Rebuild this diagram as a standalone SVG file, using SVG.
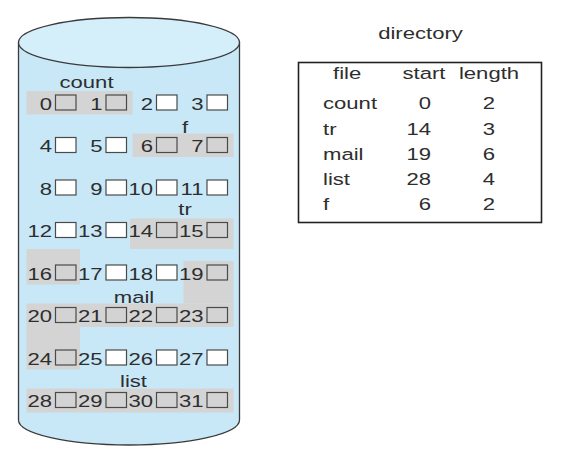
<svg xmlns="http://www.w3.org/2000/svg" width="573" height="457" viewBox="0 0 573 457">
<style>
.t{font-family:"Liberation Sans",Arial,Helvetica,sans-serif;font-size:17px;fill:#2e2e2e}
.e{text-anchor:end}
.m{text-anchor:middle}
.box{stroke:#4a4a4a;stroke-width:1.2}
.free{fill:#ffffff}
.used{fill:#d3d3d3}
.band{fill:#d4d4d4}
.cyl{fill:#c8e8f8;stroke:#3a3a3a;stroke-width:1.3}
.top{fill:#d4eefa;stroke:#3a3a3a;stroke-width:1.3}
</style>
<rect width="573" height="457" fill="#ffffff"/>
<g id="disk">
<path class="cyl" d="M18.5,42.5 L18.5,420 A110.5,25 0 0 0 239.5,420 L239.5,42.5 Z"/>
<ellipse class="top" cx="129" cy="42.5" rx="110.5" ry="25"/>
</g>
<g id="file-count">
<rect class="band" x="26.5" y="91" width="106" height="23.5"/>
<text class="t m" transform="translate(86.5,88) scale(1.3,1)">count</text>
</g>
<g id="file-f">
<rect class="band" x="132.5" y="133.5" width="101" height="23.5"/>
<text class="t m" transform="translate(185,132.5) scale(1.3,1)">f</text>
</g>
<g id="file-tr">
<rect class="band" x="130" y="218.5" width="103.5" height="30.5"/>
<rect class="band" x="26.5" y="249" width="53.5" height="35.5"/>
<text class="t m" transform="translate(185,215) scale(1.3,1)">tr</text>
</g>
<g id="file-mail">
<rect class="band" x="183.5" y="261" width="50" height="42.5"/>
<rect class="band" x="26.5" y="303.5" width="207" height="23.5"/>
<rect class="band" x="26.5" y="327" width="53.5" height="42.5"/>
<text class="t m" transform="translate(134,303) scale(1.3,1)">mail</text>
</g>
<g id="file-list">
<rect class="band" x="26.5" y="388.5" width="207" height="24"/>
<text class="t m" transform="translate(133.5,386.5) scale(1.3,1)">list</text>
</g>
<g id="blocks">
<g id="block-0"><rect class="box used" x="55.5" y="95" width="20.5" height="15"/><text class="t e" transform="translate(52,109.5) scale(1.3,1)">0</text></g>
<g id="block-1"><rect class="box used" x="106" y="95" width="20.5" height="15"/><text class="t e" transform="translate(102.5,109.5) scale(1.3,1)">1</text></g>
<g id="block-2"><rect class="box free" x="156.5" y="95" width="20.5" height="15"/><text class="t e" transform="translate(153,109.5) scale(1.3,1)">2</text></g>
<g id="block-3"><rect class="box free" x="207" y="95" width="20.5" height="15"/><text class="t e" transform="translate(203.5,109.5) scale(1.3,1)">3</text></g>
<g id="block-4"><rect class="box free" x="55.5" y="137.5" width="20.5" height="15"/><text class="t e" transform="translate(52,152) scale(1.3,1)">4</text></g>
<g id="block-5"><rect class="box free" x="106" y="137.5" width="20.5" height="15"/><text class="t e" transform="translate(102.5,152) scale(1.3,1)">5</text></g>
<g id="block-6"><rect class="box used" x="156.5" y="137.5" width="20.5" height="15"/><text class="t e" transform="translate(153,152) scale(1.3,1)">6</text></g>
<g id="block-7"><rect class="box used" x="207" y="137.5" width="20.5" height="15"/><text class="t e" transform="translate(203.5,152) scale(1.3,1)">7</text></g>
<g id="block-8"><rect class="box free" x="55.5" y="180" width="20.5" height="15"/><text class="t e" transform="translate(52,194.5) scale(1.3,1)">8</text></g>
<g id="block-9"><rect class="box free" x="106" y="180" width="20.5" height="15"/><text class="t e" transform="translate(102.5,194.5) scale(1.3,1)">9</text></g>
<g id="block-10"><rect class="box free" x="156.5" y="180" width="20.5" height="15"/><text class="t e" transform="translate(153,194.5) scale(1.3,1)">10</text></g>
<g id="block-11"><rect class="box free" x="207" y="180" width="20.5" height="15"/><text class="t e" transform="translate(203.5,194.5) scale(1.3,1)">11</text></g>
<g id="block-12"><rect class="box free" x="55.5" y="222.5" width="20.5" height="15"/><text class="t e" transform="translate(52,237) scale(1.3,1)">12</text></g>
<g id="block-13"><rect class="box free" x="106" y="222.5" width="20.5" height="15"/><text class="t e" transform="translate(102.5,237) scale(1.3,1)">13</text></g>
<g id="block-14"><rect class="box used" x="156.5" y="222.5" width="20.5" height="15"/><text class="t e" transform="translate(153,237) scale(1.3,1)">14</text></g>
<g id="block-15"><rect class="box used" x="207" y="222.5" width="20.5" height="15"/><text class="t e" transform="translate(203.5,237) scale(1.3,1)">15</text></g>
<g id="block-16"><rect class="box used" x="55.5" y="265" width="20.5" height="15"/><text class="t e" transform="translate(52,279.5) scale(1.3,1)">16</text></g>
<g id="block-17"><rect class="box free" x="106" y="265" width="20.5" height="15"/><text class="t e" transform="translate(102.5,279.5) scale(1.3,1)">17</text></g>
<g id="block-18"><rect class="box free" x="156.5" y="265" width="20.5" height="15"/><text class="t e" transform="translate(153,279.5) scale(1.3,1)">18</text></g>
<g id="block-19"><rect class="box used" x="207" y="265" width="20.5" height="15"/><text class="t e" transform="translate(203.5,279.5) scale(1.3,1)">19</text></g>
<g id="block-20"><rect class="box used" x="55.5" y="307.5" width="20.5" height="15"/><text class="t e" transform="translate(52,322) scale(1.3,1)">20</text></g>
<g id="block-21"><rect class="box used" x="106" y="307.5" width="20.5" height="15"/><text class="t e" transform="translate(102.5,322) scale(1.3,1)">21</text></g>
<g id="block-22"><rect class="box used" x="156.5" y="307.5" width="20.5" height="15"/><text class="t e" transform="translate(153,322) scale(1.3,1)">22</text></g>
<g id="block-23"><rect class="box used" x="207" y="307.5" width="20.5" height="15"/><text class="t e" transform="translate(203.5,322) scale(1.3,1)">23</text></g>
<g id="block-24"><rect class="box used" x="55.5" y="350" width="20.5" height="15"/><text class="t e" transform="translate(52,364.5) scale(1.3,1)">24</text></g>
<g id="block-25"><rect class="box free" x="106" y="350" width="20.5" height="15"/><text class="t e" transform="translate(102.5,364.5) scale(1.3,1)">25</text></g>
<g id="block-26"><rect class="box free" x="156.5" y="350" width="20.5" height="15"/><text class="t e" transform="translate(153,364.5) scale(1.3,1)">26</text></g>
<g id="block-27"><rect class="box free" x="207" y="350" width="20.5" height="15"/><text class="t e" transform="translate(203.5,364.5) scale(1.3,1)">27</text></g>
<g id="block-28"><rect class="box used" x="55.5" y="392.5" width="20.5" height="15"/><text class="t e" transform="translate(52,407) scale(1.3,1)">28</text></g>
<g id="block-29"><rect class="box used" x="106" y="392.5" width="20.5" height="15"/><text class="t e" transform="translate(102.5,407) scale(1.3,1)">29</text></g>
<g id="block-30"><rect class="box used" x="156.5" y="392.5" width="20.5" height="15"/><text class="t e" transform="translate(153,407) scale(1.3,1)">30</text></g>
<g id="block-31"><rect class="box used" x="207" y="392.5" width="20.5" height="15"/><text class="t e" transform="translate(203.5,407) scale(1.3,1)">31</text></g>
</g>
<g id="directory">
<text class="t m" transform="translate(420.5,39) scale(1.3,1)">directory</text>
<rect x="298.5" y="62.5" width="243" height="160" fill="#ffffff" stroke="#222222" stroke-width="1.6"/>
<text class="t" transform="translate(333,78.5) scale(1.3,1)">file</text>
<text class="t m" transform="translate(424,78.5) scale(1.3,1)">start</text>
<text class="t m" transform="translate(489,78.5) scale(1.3,1)">length</text>
<text class="t" transform="translate(323,109.3) scale(1.3,1)">count</text>
<text class="t e" transform="translate(431,109.3) scale(1.3,1)">0</text>
<text class="t m" transform="translate(489,109.3) scale(1.3,1)">2</text>
<text class="t" transform="translate(323,134.5) scale(1.3,1)">tr</text>
<text class="t e" transform="translate(431,134.5) scale(1.3,1)">14</text>
<text class="t m" transform="translate(489,134.5) scale(1.3,1)">3</text>
<text class="t" transform="translate(323,160) scale(1.3,1)">mail</text>
<text class="t e" transform="translate(431,160) scale(1.3,1)">19</text>
<text class="t m" transform="translate(489,160) scale(1.3,1)">6</text>
<text class="t" transform="translate(323,185) scale(1.3,1)">list</text>
<text class="t e" transform="translate(431,185) scale(1.3,1)">28</text>
<text class="t m" transform="translate(489,185) scale(1.3,1)">4</text>
<text class="t" transform="translate(323,210) scale(1.3,1)">f</text>
<text class="t e" transform="translate(431,210) scale(1.3,1)">6</text>
<text class="t m" transform="translate(489,210) scale(1.3,1)">2</text>
</g>
</svg>
